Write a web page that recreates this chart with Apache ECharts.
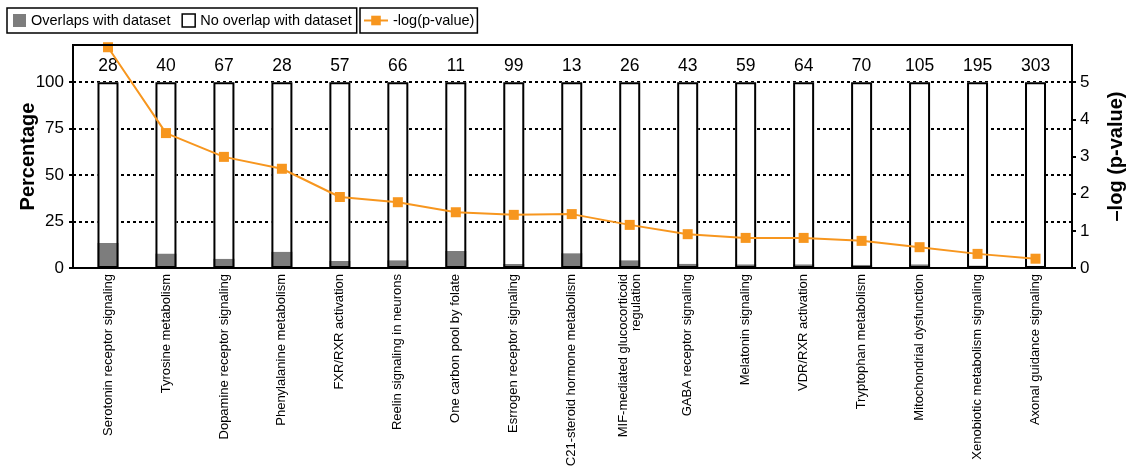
<!DOCTYPE html>
<html lang="en">
<head>
    <meta charset="utf-8">
    <title>Pathway overlap</title>
    <script src="https://cdn.jsdelivr.net/npm/echarts@6/dist/echarts.min.js"></script>
    <style>
        html, body { margin: 0; padding: 0; background: #fff; }
        #container { width: 1129px; height: 470px; }
    </style>
</head>
<body>
<div id="container"></div>
<script>
    var categories = [
        'Serotonin receptor signaling', 'Tyrosine metabolism', 'Dopamine receptor signaling',
        'Phenylalanine metabolism', 'FXR/RXR activation', 'Reelin signaling in neurons',
        'One carbon pool by folate', 'Esrrogen receptor signaling', 'C21-steroid hormone metabolism',
        'MIF-mediated glucocorticoid\nregulation', 'GABA receptor signaling', 'Melatonin signaling',
        'VDR/RXR activation', 'Tryptophan metabolism', 'Mitochondrial dysfunction',
        'Xenobiotic metabolism signaling', 'Axonal guidance signaling'
    ];
    var counts = [28, 40, 67, 28, 57, 66, 11, 99, 13, 26, 43, 59, 64, 70, 105, 195, 303];
    var overlapPct = [13.5, 7.8, 5.0, 8.8, 3.8, 4.2, 9.2, 2.2, 8.0, 4.2, 2.3, 2.0, 2.0, 1.7, 2.0, 1.4, 1.2];
    var noOverlapPct = [86.5, 92.2, 95.0, 91.2, 96.2, 95.8, 90.8, 97.8, 92.0, 95.8, 97.7, 98.0, 98.0, 98.3, 98.0, 98.6, 98.8];
    var logP = [5.94, 3.63, 2.99, 2.67, 1.91, 1.77, 1.50, 1.43, 1.45, 1.16, 0.91, 0.81, 0.81, 0.73, 0.56, 0.38, 0.25];
    var leftTicks = [0, 25, 50, 75, 100];
    var rightTicks = [0, 1, 2, 3, 4, 5];

    var font = '"Liberation Sans", Arial, sans-serif';
    var orange = '#f7961e';
    var gray = '#7d7d7d';

    // outline of the full column = both parts together
    var totals = [];
    for (var i = 0; i < overlapPct.length; i++) {
        totals.push(overlapPct[i] + noOverlapPct[i]);
    }

    var myChart = echarts.init(document.getElementById('container'));
    var option = {
        animation: false,
        textStyle: {fontFamily: font, color: '#000'},
        legend: [
            {
                data: [
                    {name: 'Overlaps with dataset', icon: 'rect'},
                    {name: 'No overlap with dataset', icon: 'rect',
                        itemStyle: {color: '#fff', borderColor: '#000', borderWidth: 1.5}}
                ],
                left: 7, top: 8,
                padding: [5, 5, 5, 6],
                itemGap: 11, itemWidth: 13, itemHeight: 13,
                borderColor: '#000', borderWidth: 1.5,
                selectedMode: false,
                textStyle: {fontSize: 14.5, color: '#000', fontFamily: font}
            },
            {
                data: ['-log(p-value)'],
                left: 360, top: 8,
                padding: [5, 3, 5, 3],
                itemWidth: 24, itemHeight: 12,
                borderColor: '#000', borderWidth: 1.5,
                selectedMode: false,
                textStyle: {fontSize: 14.5, color: '#000', fontFamily: font}
            }
        ],
        grid: [
            // bars and line
            {left: 79, right: 64.5, top: 45, bottom: 202, outerBoundsMode: 'none', containLabel: false},
            // frame, axes and dotted lines
            {left: 73, right: 57, top: 45, bottom: 202, outerBoundsMode: 'none', containLabel: false,
                show: true, z: 10, borderColor: '#000', borderWidth: 2, backgroundColor: 'transparent'}
        ],
        xAxis: [
            {
                type: 'category', gridIndex: 0, data: categories,
                axisLine: {show: false}, axisTick: {show: false},
                axisLabel: {interval: 0, rotate: 90, margin: 6, fontSize: 13, color: '#000', fontFamily: font}
            },
            {type: 'value', gridIndex: 1, min: 0, max: 1, show: false}
        ],
        yAxis: [
            {
                type: 'value', gridIndex: 1, position: 'left', min: 0, max: 120, interval: 25,
                name: 'Percentage', nameLocation: 'middle', nameGap: 35, nameRotate: 90,
                nameMoveOverlap: false,
                nameTextStyle: {fontSize: 20, fontWeight: 'bold', color: '#000', fontFamily: font},
                axisLine: {show: true, lineStyle: {color: '#000', width: 2}},
                axisTick: {show: true, length: 4, customValues: leftTicks, lineStyle: {color: '#000', width: 2}},
                axisLabel: {customValues: leftTicks, margin: 9, fontSize: 17, color: '#000', fontFamily: font},
                splitLine: {show: true, lineStyle: {color: '#000', width: 2, type: [3, 3]}}
            },
            {
                type: 'value', gridIndex: 1, position: 'right', min: 0, max: 6, interval: 1,
                name: '\u2013log (p-value)', nameLocation: 'middle', nameGap: 34, nameRotate: 90,
                nameMoveOverlap: false,
                nameTextStyle: {fontSize: 20, fontWeight: 'bold', color: '#000', fontFamily: font},
                axisLine: {show: true, lineStyle: {color: '#000', width: 2}},
                axisTick: {show: true, length: 4, customValues: rightTicks, lineStyle: {color: '#000', width: 2}},
                axisLabel: {customValues: rightTicks, margin: 8, fontSize: 17, color: '#000', fontFamily: font},
                splitLine: {show: false}
            },
            {type: 'value', gridIndex: 0, min: 0, max: 120, show: false},
            {type: 'value', gridIndex: 0, min: 0, max: 6, show: false}
        ],
        series: [
            {
                name: 'Overlaps with dataset', type: 'bar', xAxisIndex: 0, yAxisIndex: 2,
                stack: 'pct', barWidth: 21, data: overlapPct,
                itemStyle: {color: gray}
            },
            {
                name: 'No overlap with dataset', type: 'bar', xAxisIndex: 0, yAxisIndex: 2,
                stack: 'pct', barWidth: 21, data: noOverlapPct,
                itemStyle: {color: '#fff'}
            },
            {
                name: 'outline', type: 'bar', xAxisIndex: 0, yAxisIndex: 2,
                barWidth: 21, barGap: '-100%', data: totals,
                itemStyle: {color: 'rgba(0,0,0,0)', borderColor: '#000', borderWidth: 2},
                label: {
                    show: true, position: 'top', distance: 7,
                    fontSize: 17.5, color: '#000', fontFamily: font,
                    formatter: function (p) { return counts[p.dataIndex]; }
                }
            },
            {
                name: '-log(p-value)', type: 'line', xAxisIndex: 0, yAxisIndex: 3,
                data: logP, symbol: 'rect', symbolSize: 10, z: 5,
                itemStyle: {color: orange},
                lineStyle: {color: orange, width: 2}
            }
        ]
    };
    myChart.setOption(option);
</script>
</body>
</html>
